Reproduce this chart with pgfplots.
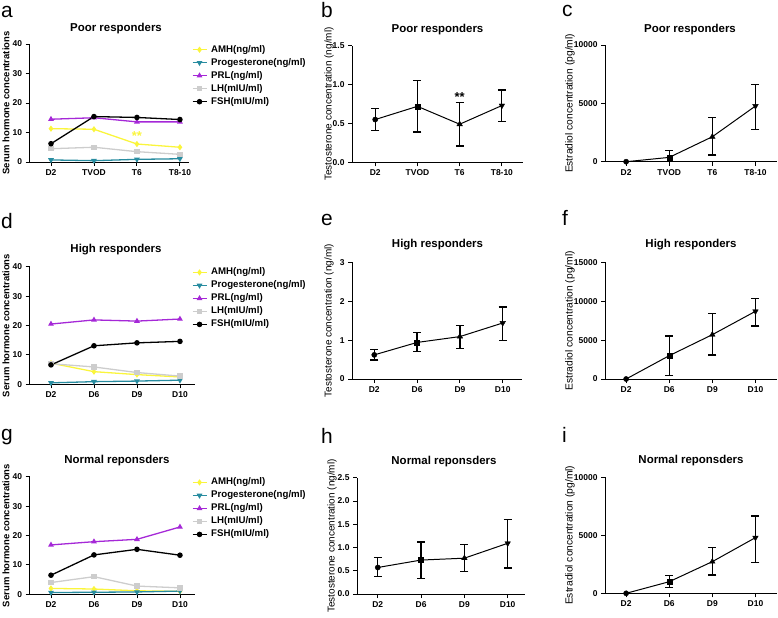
\documentclass[border=0pt]{standalone}
\usepackage{fontspec}
\setmainfont{Liberation Sans}
\usepackage{pgfplots}
\pgfplotsset{compat=1.18}

\definecolor{amh}{RGB}{250,245,60}
\definecolor{prog}{RGB}{40,140,160}
\definecolor{prl}{RGB}{165,40,215}
\definecolor{lh}{RGB}{205,205,205}

\newcommand\titlefont{\bfseries\fontsize{11.5}{12}\selectfont}
\newcommand\letterfont{\fontsize{21}{21}\selectfont}

\pgfplotsset{
  legend image code/.code={\draw[mark repeat=2,mark phase=2,#1] plot coordinates {(0bp,0bp) (7bp,0bp) (14bp,0bp)};},
  prism/.style={
    scale only axis, anchor=south west, clip=false,
    axis lines=left, axis line style={line width=0.9pt,-},
    every tick/.style={black, line width=0.9pt},
    major tick length=4bp, tick align=outside,
    scaled y ticks=false,
    tick label style={font=\bfseries\fontsize{8.5}{10}\selectfont},
    xtick={0,1,2,3}, ymin=0,
  },
  hormone/.style={prism, width=165.5bp, xmin=-0.5, xmax=3.35,
    ymax=40, ytick={0,10,20,30,40}, yticklabels={0,10,20,30,40},
    xticklabels={D2,D6,D9,D10},
    legend style={at={(0.98,1.0)}, anchor=north west, draw=none, fill=none,
      inner sep=0pt, row sep=2bp, font=\bfseries\fontsize{9.7}{11}\selectfont,
      nodes={inner sep=1bp, text height=7bp, text depth=2bp},
      /tikz/every odd column/.append style={column sep=3bp}},
    legend cell align=left,
  },
  ser/.style={line width=1.3pt, mark size=2.1bp, mark options={solid}},
  errs/.style={draw=none, mark=none, forget plot,
    error bars/.cd, y dir=both, y explicit,
    error bar style={line width=1.2pt,black},
    error mark options={rotate=90,mark size=4bp,line width=1.2pt,black}},
}

\newcommand\pts[4]{%
  \addplot[only marks, mark=*, mark size=2.6bp] coordinates {(0,#1)};
  \addplot[only marks, mark=square*, mark size=2.5bp] coordinates {(1,#2)};
  \addplot[only marks, mark=triangle*, mark size=3.2bp] coordinates {(2,#3)};
  \addplot[only marks, mark=triangle*, mark size=3.2bp, mark options={rotate=180}] coordinates {(3,#4)};}

\newcommand\hormoneplots[5]{%
  \addplot[amh, ser, mark=diamond*] coordinates {#1};
  \addplot[prog, ser, mark=triangle*, mark options={rotate=180}] coordinates {#2};
  \addplot[prl, ser, mark=triangle*] coordinates {#3};
  \addplot[lh, ser, mark=square*] coordinates {#4};
  \addplot[black, ser, mark=*] coordinates {#5};
  \legend{AMH(ng/ml),Progesterone(ng/ml),PRL(ng/ml),LH(mIU/ml),FSH(mIU/ml)}}

\begin{document}
\begin{tikzpicture}
\path[use as bounding box] (0,0) rectangle (778bp,-618bp);

% ---------- row 1 : poor responders ----------
\begin{axis}[hormone, at={(29.5bp,-162bp)}, height=118bp, xmax=3.2, width=159bp,
  legend style={at={(1.02,1.0)}},
  xticklabels={D2,TVOD,T6,T8-10}]
\hormoneplots
  {(0,11.3)(1,11.1)(2,6.1)(3,5.0)}
  {(0,0.7)(1,0.45)(2,0.9)(3,1.1)}
  {(0,14.5)(1,15.0)(2,13.6)(3,13.6)}
  {(0,4.5)(1,5.0)(2,3.5)(3,2.6)}
  {(0,6.2)(1,15.4)(2,15.1)(3,14.4)}
\node[amh, font=\bfseries\fontsize{13}{13}\selectfont] at (axis cs:2,8.9) {**};
\end{axis}

\begin{axis}[prism, at={(352bp,-162.3bp)}, width=171bp, height=116.6bp,
  xmin=-0.55, xmax=3.5, ymax=1.5, ytick={0,0.5,1,1.5}, yticklabels={0.0,0.5,1.0,1.5},
  xticklabels={D2,TVOD,T6,T8-10}]
\addplot[black, line width=1pt] coordinates {(0,0.55)(1,0.72)(2,0.49)(3,0.73)};
\addplot[errs] table[x=x, y=y, y error plus=ep, y error minus=em] {
x y ep em
0 0.55 0.14 0.14
1 0.72 0.33 0.33
2 0.49 0.28 0.28
3 0.73 0.20 0.21
};
\pts{0.55}{0.72}{0.49}{0.73}
\node[font=\bfseries\fontsize{13}{13}\selectfont] at (axis cs:2,0.84) {**};
\end{axis}

\begin{axis}[prism, at={(605bp,-161.7bp)}, width=172bp, height=116.7bp,
  xmin=-0.49, xmax=3.5, ymax=10000, ytick={0,5000,10000}, yticklabels={0,5000,10000},
  xticklabels={D2,TVOD,T6,T8-10}]
\addplot[black, line width=1pt] coordinates {(0,0)(1,370)(2,2140)(3,4770)};
\addplot[errs] table[x=x, y=y, y error plus=ep, y error minus=em] {
x y ep em
1 370 570 370
2 2140 1660 1570
3 4770 1860 2000
};
\pts{0}{370}{2140}{4770}
\end{axis}

% ---------- row 2 : high responders ----------
\begin{axis}[hormone, at={(29.5bp,-384.3bp)}, height=117.6bp]
\hormoneplots
  {(0,7.2)(1,4.3)(2,3.3)(3,2.5)}
  {(0,0.5)(1,0.9)(2,1.1)(3,1.4)}
  {(0,20.5)(1,21.9)(2,21.5)(3,22.2)}
  {(0,7.0)(1,5.9)(2,4.0)(3,2.8)}
  {(0,6.6)(1,13.1)(2,14.1)(3,14.6)}
\end{axis}

\begin{axis}[prism, at={(352bp,-379bp)}, width=170bp, height=116.7bp,
  xmin=-0.52, xmax=3.45, ymax=3, ytick={0,1,2,3}, yticklabels={0,1,2,3},
  xticklabels={D2,D6,D9,D10}]
\addplot[black, line width=1pt] coordinates {(0,0.62)(1,0.94)(2,1.09)(3,1.44)};
\addplot[errs] table[x=x, y=y, y error plus=ep, y error minus=em] {
x y ep em
0 0.62 0.13 0.13
1 0.94 0.25 0.24
2 1.09 0.29 0.30
3 1.44 0.41 0.46
};
\pts{0.62}{0.94}{1.09}{1.44}
\end{axis}

\begin{axis}[prism, at={(605bp,-379bp)}, width=172bp, height=116.7bp,
  xmin=-0.49, xmax=3.5, ymax=15000, ytick={0,5000,10000,15000}, yticklabels={0,5000,10000,15000},
  xticklabels={D2,D6,D9,D10}]
\addplot[black, line width=1pt] coordinates {(0,0)(1,3000)(2,5700)(3,8700)};
\addplot[errs] table[x=x, y=y, y error plus=ep, y error minus=em] {
x y ep em
1 3000 2530 2570
2 5700 2740 2610
3 8700 1630 1890
};
\pts{0}{3000}{5700}{8700}
\end{axis}

% ---------- row 3 : normal responders ----------
\begin{axis}[hormone, at={(29.5bp,-594.3bp)}, height=117.6bp]
\hormoneplots
  {(0,2.0)(1,1.8)(2,1.2)(3,1.0)}
  {(0,0.6)(1,0.7)(2,0.8)(3,1.1)}
  {(0,16.8)(1,17.9)(2,18.7)(3,22.9)}
  {(0,4.0)(1,6.0)(2,2.8)(3,2.2)}
  {(0,6.5)(1,13.4)(2,15.3)(3,13.3)}
\end{axis}

\begin{axis}[prism, at={(357bp,-594bp)}, width=168bp, height=116.3bp,
  xmin=-0.48, xmax=3.4, ymax=2.5, ytick={0,0.5,1,1.5,2,2.5}, yticklabels={0.0,0.5,1.0,1.5,2.0,2.5},
  xticklabels={D2,D6,D9,D10}]
\addplot[black, line width=1pt] coordinates {(0,0.57)(1,0.73)(2,0.77)(3,1.09)};
\addplot[errs] table[x=x, y=y, y error plus=ep, y error minus=em] {
x y ep em
0 0.57 0.21 0.20
1 0.73 0.39 0.40
2 0.77 0.29 0.28
3 1.09 0.51 0.53
};
\pts{0.57}{0.73}{0.77}{1.09}
\end{axis}

\begin{axis}[prism, at={(605bp,-593.3bp)}, width=172bp, height=116bp,
  xmin=-0.49, xmax=3.5, ymax=10000, ytick={0,5000,10000}, yticklabels={0,5000,10000},
  xticklabels={D2,D6,D9,D10}]
\addplot[black, line width=1pt] coordinates {(0,0)(1,1000)(2,2730)(3,4800)};
\addplot[errs] table[x=x, y=y, y error plus=ep, y error minus=em] {
x y ep em
1 1000 520 510
2 2730 1240 1150
3 4800 1870 2130
};
\pts{0}{1000}{2730}{4800}
\end{axis}

% ---------- titles ----------
\node[anchor=base, font=\titlefont] at (116bp,-31bp) {Poor responders};
\node[anchor=base, font=\titlefont] at (437.5bp,-32bp) {Poor responders};
\node[anchor=base, font=\titlefont] at (690bp,-32bp) {Poor responders};
\node[anchor=base, font=\titlefont] at (116bp,-252bp) {High responders};
\node[anchor=base, font=\titlefont] at (437.5bp,-247bp) {High responders};
\node[anchor=base, font=\titlefont] at (691bp,-247bp) {High responders};
\node[anchor=base, font=\titlefont] at (117bp,-463bp) {Normal reponsders};
\node[anchor=base, font=\titlefont] at (444bp,-464bp) {Normal reponsders};
\node[anchor=base, font=\titlefont] at (691bp,-463bp) {Normal reponsders};

% ---------- y labels ----------
\foreach \yc in {103,325.5,535.5}
  \node[rotate=90, font=\bfseries\fontsize{9.5}{10}\selectfont] at (6bp,-\yc bp) {Serum hormone concentrations};
\foreach \xc/\yc in {329/104,329/320.7,332/535.9}
  \node[rotate=90, font=\fontsize{10}{11}\selectfont] at (\xc bp,-\yc bp) {Testosterone concentration (ng/ml)};
\foreach \yc in {103.4,320.7,535.3}
  \node[rotate=90, font=\fontsize{10.3}{11}\selectfont] at (570bp,-\yc bp) {Estradiol concentration (pg/ml)};

% ---------- panel letters ----------
\foreach \xl/\yl/\t in {1/17/a,321/17/b,562/16/c,1/228/d,321/225/e,562/225/f,1/440/g,321/443/h,562/442/i}
  \node[anchor=base west, inner sep=0pt, font=\letterfont] at (\xl bp,-\yl bp) {\t};
\end{tikzpicture}
\end{document}
